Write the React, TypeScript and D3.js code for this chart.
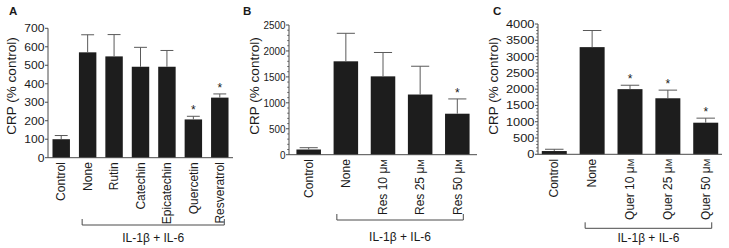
import React from "react";
import * as d3 from "d3";

const catsA = ["Control", "None", "Rutin", "Catechin", "Epicatechin", "Quercetin", "Resveratrol"];
const valsA = [100, 570, 548, 492, 492, 207, 325];
const errsA = [20, 95, 118, 105, 88, 17, 20];
const sigA = [false, false, false, false, false, true, true];
const ticksA = [0, 100, 200, 300, 400, 500, 600, 700];

const catsB = ["Control", "None", "Res 10 ", "Res 25 ", "Res 50 "];
const valsB = [100, 1800, 1510, 1160, 790];
const errsB = [35, 540, 460, 545, 285];
const sigB = [false, false, false, false, true];
const ticksB = [0, 500, 1000, 1500, 2000, 2500];

const catsC = ["Control", "None", "Quer 10 ", "Quer 25 ", "Quer 50 "];
const valsC = [100, 3290, 2000, 1720, 970];
const errsC = [55, 510, 120, 250, 140];
const sigC = [false, false, true, true, true];
const ticksC = [0, 500, 1000, 1500, 2000, 2500, 3000, 3500, 4000];

const AXIS = "#4a4a4a";
const BAR = "#1d1d1d";
const ERR = "#5a5a5a";
const TXT = "#1a1a1a";
const FONT = "'Liberation Sans', Arial, Helvetica, sans-serif";

type PanelProps = {
  letter: string;
  letterX: number;
  cats: string[];
  vals: number[];
  errs: number[];
  sig: boolean[];
  ticks: number[];
  yMax: number;
  x0: number;
  x1: number;
  yBottom: number;
  yTop: number;
  padOuter: number;
  minorStep: number | null;
  yLabelX: number;
  tickScale: number;
  brL: number;
  brR: number;
  brY: number;
  grpY: number;
  micro: boolean[];
};

function Panel(p: PanelProps) {
  const x = d3
    .scaleBand<string>()
    .domain(p.cats)
    .range([p.x0, p.x1])
    .paddingInner(0.34)
    .paddingOuter(p.padOuter);
  const y = d3.scaleLinear().domain([0, p.yMax]).range([p.yBottom, p.yTop]);
  const bw = x.bandwidth();
  const minors = p.minorStep ? d3.range(0, p.yMax + 0.001, p.minorStep).filter((v) => !p.ticks.includes(v)) : [];
  const first = p.cats[1];
  const last = p.cats[p.cats.length - 1];
  const cx = (c: string) => (x(c) as number) + bw / 2;
  const bl = cx(first) + p.brL;
  const br = cx(last) + p.brR;
  return (
    <g>
      <text x={p.letterX} y={15} fontSize={11.5} fontWeight="bold" fill={TXT} fontFamily={FONT}>
        {p.letter}
      </text>
      <text
        transform={`translate(${p.yLabelX},86) rotate(-90)`}
        textAnchor="middle"
        dy="0.35em"
        fontSize={13.5}
        fill={TXT}
        fontFamily={FONT}
      >
        CRP (% control)
      </text>
      {p.cats.map((c, i) => {
        const bx = x(c) as number;
        const top = y(p.vals[i]);
        const et = y(p.vals[i] + p.errs[i]);
        const ex = bx + bw / 2;
        const cap = bw * 0.37;
        return (
          <g key={c}>
            <rect x={bx} y={top} width={bw} height={p.yBottom - top} fill={BAR} />
            <line x1={ex} x2={ex} y1={top} y2={et} stroke={ERR} strokeWidth={1} />
            <line x1={ex - cap} x2={ex + cap} y1={et} y2={et} stroke={ERR} strokeWidth={1} />
            {p.sig[i] && (
              <text x={ex} y={et - 2} textAnchor="middle" fontSize={12} fill={TXT} fontFamily={FONT}>
                *
              </text>
            )}
            <text
              transform={`translate(${ex},${p.yBottom + 4.5}) rotate(-90)`}
              textAnchor="end"
              dy="0.35em"
              fontSize={12}
              fill={TXT}
              fontFamily={FONT}
            >
              {c}
              {p.micro[i] && (
                <>
                  <tspan>μ</tspan>
                  <tspan fontSize={9}>M</tspan>
                </>
              )}
            </text>
          </g>
        );
      })}
      <line x1={p.x0} x2={p.x0} y1={p.yBottom} y2={y(p.yMax)} stroke={AXIS} strokeWidth={1} />
      <line x1={p.x0} x2={p.x1} y1={p.yBottom} y2={p.yBottom} stroke={AXIS} strokeWidth={1} />
      {p.ticks.map((t) => (
        <g key={t}>
          <line x1={p.x0 - 3} x2={p.x0} y1={y(t)} y2={y(t)} stroke={AXIS} strokeWidth={1} />
          <text
            transform={`translate(${p.x0 - 3.5},${y(t)}) scale(${p.tickScale},1)`}
            dy="0.35em"
            textAnchor="end"
            fontSize={11.5}
            fill={TXT}
            fontFamily={FONT}
          >
            {t}
          </text>
        </g>
      ))}
      {minors.map((t) => (
        <line key={"m" + t} x1={p.x0 - 1.8} x2={p.x0} y1={y(t)} y2={y(t)} stroke={AXIS} strokeWidth={0.8} />
      ))}
      <path
        d={`M${bl},${p.brY - 6}V${p.brY}H${br}V${p.brY - 6}`}
        fill="none"
        stroke={AXIS}
        strokeWidth={1}
      />
      <text
        x={(bl + br) / 2}
        y={p.grpY}
        dy="0.35em"
        textAnchor="middle"
        fontSize={12}
        fill={TXT}
        fontFamily={FONT}
      >
        IL-1β + IL-6
      </text>
    </g>
  );
}

export default function App() {
  return (
    <svg
      width={729}
      height={248}
      style={{ position: "absolute", left: 0, top: 0, background: "#fff" }}
    >
      <rect width={729} height={248} fill="#fff" />
      <Panel
        letter="A"
        letterX={9}
        cats={catsA}
        vals={valsA}
        errs={errsA}
        sig={sigA}
        ticks={ticksA}
        yMax={700}
        x0={48}
        x1={233}
        yBottom={157.7}
        yTop={28.3}
        padOuter={0.17}
        minorStep={null}
        yLabelX={11}
        tickScale={1.05}
        brL={-5.5}
        brR={4.5}
        brY={225}
        grpY={237.5}
        micro={catsA.map(() => false)}
      />
      <Panel
        letter="B"
        letterX={243}
        cats={catsB}
        vals={valsB}
        errs={errsB}
        sig={sigB}
        ticks={ticksB}
        yMax={2500}
        x0={289}
        x1={477}
        yBottom={154.7}
        yTop={25}
        padOuter={0.2}
        minorStep={100}
        yLabelX={254}
        tickScale={0.86}
        brL={-9}
        brR={6}
        brY={220}
        grpY={236.7}
        micro={catsB.map((c) => c.startsWith("Res"))}
      />
      <Panel
        letter="C"
        letterX={493}
        cats={catsC}
        vals={valsC}
        errs={errsC}
        sig={sigC}
        ticks={ticksC}
        yMax={4000}
        x0={538}
        x1={722}
        yBottom={154.3}
        yTop={24}
        padOuter={0.1}
        minorStep={100}
        yLabelX={493}
        tickScale={1.12}
        brL={-7}
        brR={6}
        brY={228.3}
        grpY={237.3}
        micro={catsC.map((c) => c.startsWith("Quer"))}
      />
    </svg>
  );
}
